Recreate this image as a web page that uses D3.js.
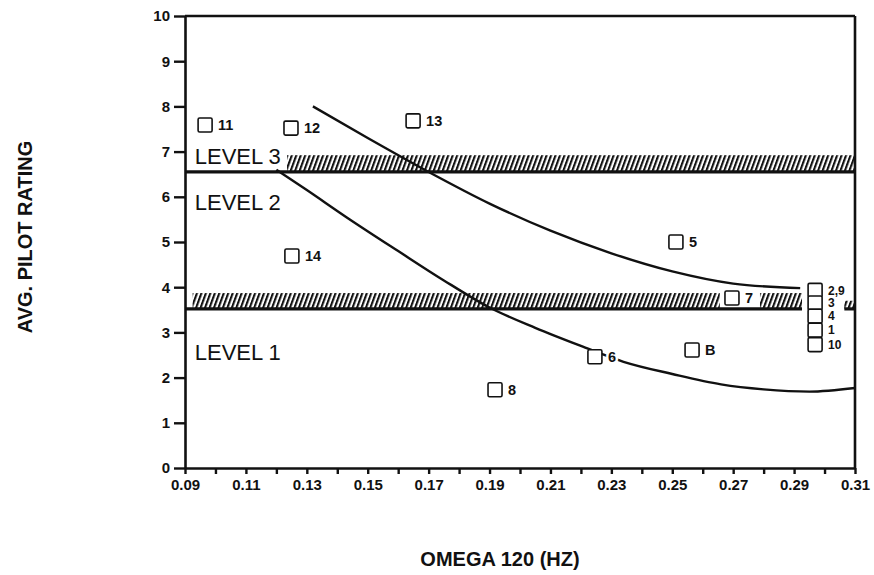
<!DOCTYPE html>
<html>
<head>
<meta charset="utf-8">
<script src="https://cdn.jsdelivr.net/npm/d3@7"></script>
<style>
  body { margin: 0; background: #fff; }
  text { font-family: "Liberation Sans", Arial, sans-serif; }
</style>
</head>
<body>
<svg id="chart"></svg>
<script>
// ---- data ----
const pointIds = ["11", "12", "13", "14", "5", "6", "8", "B", "7", "2,9", "3", "4", "1", "10"];
const pointX = [0.0966, 0.1248, 0.1649, 0.1251, 0.2512, 0.2246, 0.1918, 0.2565, 0.2696, 0.2969, 0.2969, 0.2969, 0.2969, 0.2969];
const pointY = [7.59, 7.52, 7.68, 4.69, 5.0, 2.46, 1.73, 2.61, 3.76, 3.93, 3.65, 3.36, 3.05, 2.73];
// labels of the stacked points at the right edge are set smaller
const stackedIds = ["2,9", "3", "4", "1", "10"];

const upperCurveX = [0.132, 0.15, 0.17, 0.19, 0.21, 0.23, 0.25, 0.27, 0.292];
const upperCurveY = [8.0, 7.3, 6.55, 5.85, 5.25, 4.75, 4.35, 4.08, 3.98];
const lowerCurveX = [0.12, 0.13, 0.143, 0.16, 0.175, 0.19, 0.205, 0.22, 0.234, 0.25, 0.266, 0.28, 0.295, 0.31];
const lowerCurveY = [6.6, 6.15, 5.55, 4.8, 4.15, 3.55, 3.1, 2.7, 2.35, 2.08, 1.85, 1.74, 1.69, 1.77];

// level boundaries (solid line + hatched strip above it)
const boundaryStart = [0.09, 0.09, 0.3065];
const boundaryEnd = [0.31, 0.2926, 0.31];
const boundaryY = [6.55, 3.52, 3.52];
const hatchStart = [0.1235, 0.0925, 0.2788, 0.3065];
const hatchEnd = [0.31, 0.2656, 0.2926, 0.31];
const hatchLow = [6.55, 3.52, 3.52, 3.52];
const hatchHigh = [6.92, 3.87, 3.87, 3.7];

const levelNames = ["LEVEL 3", "LEVEL 2", "LEVEL 1"];
const levelLabelY = [6.72, 5.7, 2.4];

const yTicks = [0, 1, 2, 3, 4, 5, 6, 7, 8, 9, 10];
const xTicks = d3.range(9, 32).map(d => d / 100);
const xTickLabels = ["0.09", "0.11", "0.13", "0.15", "0.17", "0.19", "0.21", "0.23", "0.25", "0.27", "0.29", "0.31"];

// ---- layout ----
const W = 874, H = 575;
const margin = { top: 16, right: 19, bottom: 107, left: 185 };
const width = W - margin.left - margin.right;
const height = H - margin.top - margin.bottom;

const svg = d3.select("#chart").attr("width", W).attr("height", H);
const g = svg.append("g").attr("transform", "translate(" + margin.left + "," + margin.top + ")");

const x = d3.scaleLinear().domain([0.09, 0.31]).range([0, width]);
const y = d3.scaleLinear().domain([0, 10]).range([height, 0]);

svg.append("defs").append("pattern")
    .attr("id", "hatch")
    .attr("patternUnits", "userSpaceOnUse")
    .attr("width", 4.2).attr("height", 10)
    .attr("patternTransform", "rotate(20)")
    .append("rect").attr("width", 2.1).attr("height", 10).attr("fill", "#111");

// hatched strips
g.selectAll(".hatch")
    .data(hatchStart.map((s, i) => ({ s: s, e: hatchEnd[i], lo: hatchLow[i], hi: hatchHigh[i] })))
    .join("rect")
    .attr("class", "hatch")
    .attr("x", d => x(d.s))
    .attr("width", d => x(d.e) - x(d.s))
    .attr("y", d => y(d.hi))
    .attr("height", d => y(d.lo) - y(d.hi))
    .attr("fill", "url(#hatch)");

// boundary lines
g.selectAll(".boundary")
    .data(boundaryStart.map((s, i) => ({ s: s, e: boundaryEnd[i], v: boundaryY[i] })))
    .join("line")
    .attr("class", "boundary")
    .attr("x1", d => x(d.s)).attr("x2", d => x(d.e))
    .attr("y1", d => y(d.v)).attr("y2", d => y(d.v))
    .attr("stroke", "#111").attr("stroke-width", 3.2);

// curves
const line = d3.line()
    .x(d => x(d[0]))
    .y(d => y(d[1]))
    .curve(d3.curveMonotoneX);

g.selectAll(".curve")
    .data([upperCurveX.map((v, i) => [v, upperCurveY[i]]), lowerCurveX.map((v, i) => [v, lowerCurveY[i]])])
    .join("path")
    .attr("class", "curve")
    .attr("d", line)
    .attr("fill", "none")
    .attr("stroke", "#111")
    .attr("stroke-width", 2.4);

// level labels
g.selectAll(".level")
    .data(levelNames)
    .join("text")
    .attr("class", "level")
    .attr("x", x(0.0932))
    .attr("y", (d, i) => y(levelLabelY[i]))
    .attr("font-size", 22)
    .attr("fill", "#111")
    .text(d => d);

// axes
const yAxis = g.append("g")
    .call(d3.axisLeft(y).tickValues(yTicks).tickSize(11).tickSizeOuter(0).tickPadding(4).tickFormat(d3.format("d")));
const xAxis = g.append("g")
    .attr("transform", "translate(0," + height + ")")
    .call(d3.axisBottom(x).tickValues(xTicks).tickSize(6).tickSizeOuter(0).tickPadding(5)
        .tickFormat(d => { const s = d3.format(".2f")(d); return xTickLabels.includes(s) ? s : ""; }));

[yAxis, xAxis].forEach(a => {
    a.select(".domain").attr("stroke", "#111").attr("stroke-width", 2.6);
    a.selectAll(".tick line").attr("stroke", "#111").attr("stroke-width", 2.4);
    a.selectAll(".tick text")
        .attr("fill", "#111")
        .attr("font-size", 15)
        .attr("font-weight", "bold")
        .attr("font-family", "'Liberation Sans', Arial, sans-serif");
});

// frame top and right
g.append("line")
    .attr("x1", x(0.09)).attr("x2", x(0.31))
    .attr("y1", y(10)).attr("y2", y(10))
    .attr("stroke", "#111").attr("stroke-width", 2.6);
g.append("line")
    .attr("x1", x(0.31)).attr("x2", x(0.31))
    .attr("y1", y(10)).attr("y2", y(0))
    .attr("stroke", "#111").attr("stroke-width", 2.6);

// data points
const pts = pointIds.map((id, i) => ({ id: id, x: pointX[i], y: pointY[i] }));
const sq = 14;

g.selectAll(".pt-label")
    .data(pts)
    .join("text")
    .attr("class", "pt-label")
    .attr("x", d => x(d.x) + sq / 2 + 6)
    .attr("y", d => y(d.y))
    .attr("dy", "0.36em")
    .attr("font-size", d => stackedIds.includes(d.id) ? 12 : 14.5)
    .attr("font-weight", "bold")
    .attr("fill", "#111")
    .attr("stroke", "#fff")
    .attr("stroke-width", d => stackedIds.includes(d.id) ? 0 : 5)
    .attr("paint-order", "stroke")
    .text(d => d.id);

g.selectAll(".pt")
    .data(pts)
    .join("rect")
    .attr("class", "pt")
    .attr("x", d => x(d.x) - sq / 2)
    .attr("y", d => y(d.y) - sq / 2)
    .attr("width", sq).attr("height", sq)
    .attr("rx", 1.5)
    .attr("fill", "#fff")
    .attr("stroke", "#111")
    .attr("stroke-width", 1.6);

// axis titles
svg.append("text")
    .attr("transform", "translate(32," + (margin.top + height / 2 - 5) + ") rotate(-90)")
    .attr("text-anchor", "middle")
    .attr("font-size", 20)
    .attr("font-weight", "bold")
    .attr("fill", "#111")
    .text("AVG. PILOT RATING");

svg.append("text")
    .attr("x", 500)
    .attr("y", 566)
    .attr("text-anchor", "middle")
    .attr("font-size", 20)
    .attr("font-weight", "bold")
    .attr("fill", "#111")
    .text("OMEGA 120 (HZ)");
</script>
</body>
</html>
